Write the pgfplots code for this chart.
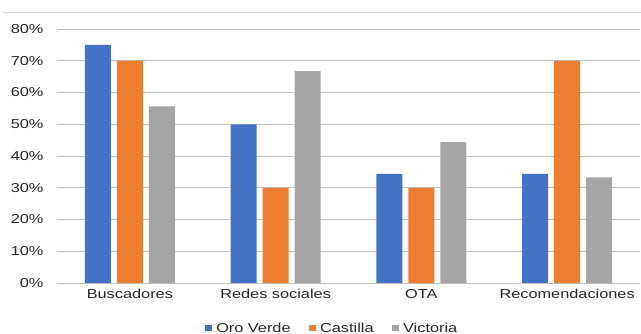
\documentclass[border=0pt]{standalone}
\usepackage{pgfplots}
\pgfplotsset{compat=1.18}
\usepackage{fontspec}
\setmainfont{Liberation Sans}[FakeStretch=1.26]
\definecolor{cblue}{HTML}{4472C4}
\definecolor{corange}{HTML}{ED7D31}
\definecolor{cgray}{HTML}{A5A5A5}
\definecolor{grid}{HTML}{D9D9D9}
\begin{document}
\begin{tikzpicture}
\useasboundingbox (0,0) rectangle (641bp,334bp);
\draw[grid, line width=0.8bp] (3bp,322bp) -- (641bp,322bp);
\begin{axis}[
  at={(57bp,51bp)}, anchor=south west,
  scale only axis, width=583bp, height=254bp,
  xmin=-0.5, xmax=3.5, ymin=0, ymax=80,
  axis line style={draw=none},
  ytick={0,10,...,80},
  xmajorgrids=false, ymajorgrids, grid style={grid, line width=0.8bp},
  xtick style={draw=none}, ytick style={draw=none},
  xtick={0,1,2,3},
  xticklabels={Buscadores,Redes sociales,OTA,Recomendaciones},
  yticklabel={\pgfmathprintnumber{\tick}\%},
  /pgf/number format/assume math mode=true,
  ticklabel style={font=\fontsize{13}{15}\selectfont, text=black!85},
  yticklabel style={xshift=-10bp},
  xticklabel style={yshift=-3bp},
  legend columns=3,
  legend style={at={(0.470,-0.181)}, anchor=center, draw=none, fill=none,
    font=\fontsize{13}{15}\selectfont, text=black!85,
    nodes={inner sep=0pt},
    /tikz/every odd column/.append style={column sep=4.5bp},
    /tikz/every even column/.append style={column sep=18bp},
    inner sep=0pt},
  legend image code/.code={\fill[#1] (0bp,-2bp) rectangle (7bp,4bp);},
]
\addplot[ybar, bar width=26bp, bar shift=-32bp, fill=cblue, draw=none]
  coordinates {(0,75.0) (1,50.0) (2,34.4) (3,34.4)};
\addplot[ybar, bar width=26bp, bar shift=0bp, fill=corange, draw=none]
  coordinates {(0,70.0) (1,30.0) (2,30.0) (3,70.0)};
\addplot[ybar, bar width=26bp, bar shift=32bp, fill=cgray, draw=none]
  coordinates {(0,55.6) (1,66.7) (2,44.4) (3,33.3)};
\legend{Oro Verde,Castilla,Victoria}
\end{axis}
\end{tikzpicture}
\end{document}
